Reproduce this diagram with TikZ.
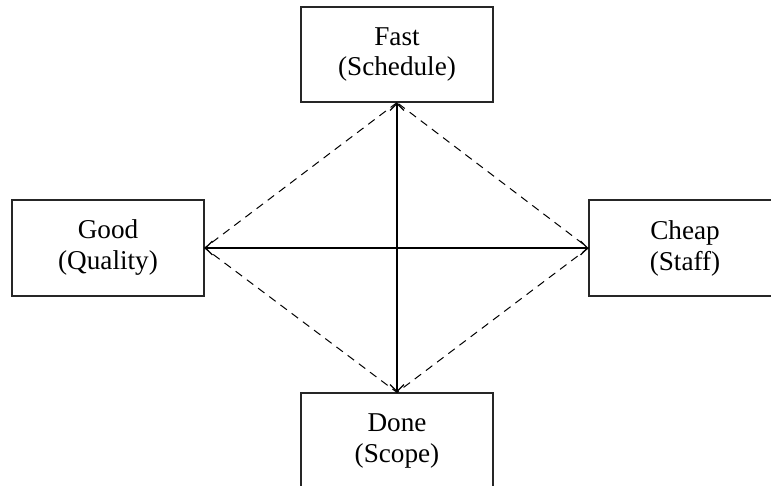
\documentclass[tikz,border=0pt]{standalone}
\usepackage{fontspec}
\setmainfont{Liberation Serif}
\usepackage{tikz}
\usetikzlibrary{arrows.meta,positioning}

\begin{document}
\begin{tikzpicture}[
        x=1pt, y=1pt,
        font=\fontsize{13.6}{15.5}\selectfont,
        % Block styles
        goal/.style={
            rectangle,
            draw=black!85,
            line width=0.6pt,
            minimum height=48pt,
            minimum width=96pt,
            align=center
        },
        tradeoff/.style={{Straight Barb[length=3.5pt,width=7pt]}-{Straight Barb[length=3.5pt,width=7pt]}, line width=0.6pt},
        link/.style={dashed, dash pattern=on 4pt off 3pt, line width=0.5pt}
    ]
    \useasboundingbox (0,0) rectangle (385.5,243);
    \clip (0,0) rectangle (385.5,243);

    % Goals
    \node[goal, minimum height=47.5pt] (fast) at (198.5, 215.75) {Fast\\(Schedule)};
    \node[goal] (good) at (54, 119) {Good\\(Quality)};
    \node[goal] (cheap) at (342.5, 119) {Cheap\\(Staff)};
    \node[goal] (done) at (198.5, 22.5) {Done\\(Scope)};

    % Connections
    \draw[tradeoff] (fast.south) -- (done.north);
    \draw[tradeoff] (good.east) -- (cheap.west);

    \draw[link] (fast.south) -- (good.east) -- (done.north) -- (cheap.west) -- cycle;

\end{tikzpicture}
\end{document}
